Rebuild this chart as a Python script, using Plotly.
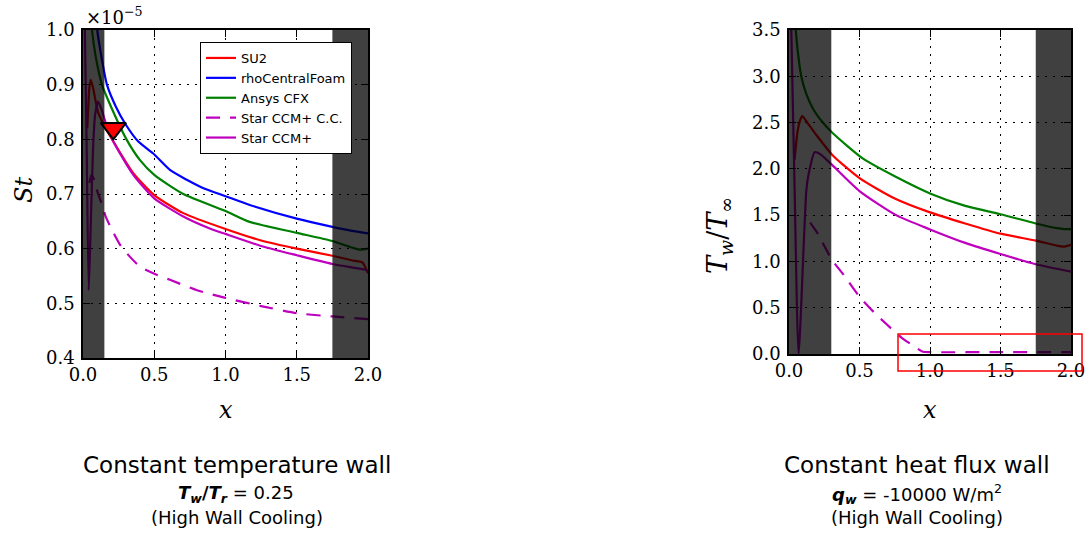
import plotly.graph_objects as go

W, H = 1086, 534

# ---------------- Left panel: Stanton number (x 1e-5) ----------------
su2_x = [0.03, 0.045, 0.054, 0.07, 0.105, 0.15, 0.213, 0.353, 0.5, 0.704, 1.0, 1.25, 1.5, 1.75, 1.9, 1.96, 2.0]
su2_st = [0.82, 0.895, 0.909, 0.895, 0.85, 0.825, 0.796, 0.738, 0.698, 0.665, 0.636, 0.615, 0.60, 0.587, 0.578, 0.575, 0.555]

rcf_x = [0.095, 0.1, 0.13, 0.168, 0.23, 0.295, 0.388, 0.493, 0.61, 0.728, 0.85, 1.0, 1.17, 1.5, 1.75, 1.9, 2.0]
rcf_st = [1.03, 1.0, 0.95, 0.9, 0.86, 0.829, 0.796, 0.774, 0.744, 0.726, 0.71, 0.696, 0.68, 0.655, 0.64, 0.632, 0.628]

cfx_x = [0.055, 0.063, 0.09, 0.133, 0.213, 0.307, 0.4, 0.5, 0.704, 1.0, 1.17, 1.5, 1.75, 1.9, 1.95, 2.0]
cfx_st = [1.03, 1.0, 0.95, 0.9, 0.85, 0.799, 0.762, 0.735, 0.7, 0.669, 0.649, 0.629, 0.614, 0.601, 0.598, 0.6]

ccmcc_x = [0.045, 0.06, 0.08, 0.1, 0.13, 0.16, 0.21, 0.26, 0.33, 0.4, 0.52, 0.61, 0.8, 1.0, 1.25, 1.5, 1.75, 2.0]
ccmcc_st = [0.72, 0.735, 0.725, 0.705, 0.683, 0.658, 0.631, 0.607, 0.585, 0.567, 0.552, 0.543, 0.524, 0.51, 0.495, 0.482, 0.476, 0.471]

ccm_x = [0.01, 0.025, 0.04, 0.055, 0.07, 0.085, 0.105, 0.13, 0.16, 0.213, 0.353, 0.5, 0.704, 0.89, 1.0, 1.25, 1.5, 1.75, 1.95, 2.0]
ccm_st = [1.05, 0.8, 0.524, 0.65, 0.78, 0.845, 0.869, 0.855, 0.83, 0.796, 0.735, 0.692, 0.659, 0.637, 0.627, 0.605, 0.588, 0.572, 0.563, 0.56]

marker_x = [0.213]
marker_st = [0.82]

# ---------------- Right panel: Tw / Tinf ----------------
su2_x2 = [0.04, 0.06, 0.08, 0.094, 0.12, 0.194, 0.307, 0.5, 0.75, 1.0, 1.25, 1.5, 1.75, 1.9, 1.95, 2.0]
su2_tw = [2.1, 2.4, 2.53, 2.57, 2.52, 2.366, 2.15, 1.9, 1.68, 1.53, 1.41, 1.30, 1.225, 1.17, 1.16, 1.18]

cfx_x2 = [0.045, 0.06, 0.087, 0.12, 0.17, 0.24, 0.307, 0.525, 0.75, 1.0, 1.25, 1.5, 1.75, 1.9, 1.95, 2.0]
cfx_tw = [3.55, 3.3, 3.0, 2.82, 2.65, 2.5, 2.39, 2.11, 1.92, 1.735, 1.6, 1.51, 1.41, 1.36, 1.35, 1.35]

ccmcc_x2 = [0.15, 0.2, 0.3, 0.4, 0.5, 0.6, 0.7, 0.8, 0.9, 0.95, 1.0, 1.5, 2.0]
ccmcc_tw = [1.42, 1.31, 1.03, 0.83, 0.62, 0.455, 0.31, 0.175, 0.07, 0.025, 0.02, 0.02, 0.02]

ccm_x2 = [0.015, 0.04, 0.068, 0.123, 0.14, 0.182, 0.22, 0.307, 0.5, 0.76, 1.0, 1.25, 1.5, 1.75, 2.0]
ccm_tw = [3.6, 1.77, 0.0, 1.77, 1.95, 2.18, 2.16, 2.04, 1.76, 1.5, 1.346, 1.2, 1.08, 0.97, 0.89]

shade_left = [(0.0, 0.15), (1.75, 2.0)]
shade_right = [(0.0, 0.3), (1.75, 2.0)]

x_ticks = [0.0, 0.5, 1.0, 1.5, 2.0]

RED, BLUE, GREEN, MAG = "#ff0000", "#0000ff", "#008000", "#bf00bf"
SERIF = "DejaVu Serif"
SANS = "DejaVu Sans"
LW = 2.2
DASH = "14px,10px"

fig = go.Figure()

def add_line(x, y, color, name, xa, ya, dash="solid", show=True):
    fig.add_trace(go.Scatter(x=x, y=y, mode="lines", name=name, showlegend=show,
                             line=dict(color=color, width=LW, dash=dash, shape="spline", smoothing=0.6),
                             xaxis=xa, yaxis=ya))

add_line(su2_x, su2_st, RED, "SU2", "x", "y")
add_line(rcf_x, rcf_st, BLUE, "rhoCentralFoam", "x", "y")
add_line(cfx_x, cfx_st, GREEN, "Ansys CFX", "x", "y")
add_line(ccmcc_x, ccmcc_st, MAG, "Star CCM+ C.C.", "x", "y", dash=DASH)
add_line(ccm_x, ccm_st, MAG, "Star CCM+", "x", "y")

add_line(su2_x2, su2_tw, RED, "SU2", "x2", "y2", show=False)
add_line(cfx_x2, cfx_tw, GREEN, "Ansys CFX", "x2", "y2", show=False)
add_line(ccmcc_x2, ccmcc_tw, MAG, "Star CCM+ C.C.", "x2", "y2", dash=DASH, show=False)
add_line(ccm_x2, ccm_tw, MAG, "Star CCM+", "x2", "y2", show=False)

fig.add_trace(go.Scatter(x=marker_x, y=marker_st, mode="markers", showlegend=False,
                         marker=dict(symbol="triangle-down", size=22, color=RED,
                                     line=dict(color="black", width=2)),
                         xaxis="x", yaxis="y"))

# shaded regions (semi-transparent dark overlay)
for (a, b) in shade_left:
    fig.add_shape(type="rect", xref="x", yref="y domain", x0=a, x1=b, y0=0, y1=1,
                  fillcolor="rgba(0,0,0,0.75)", line_width=0, layer="above")
for (a, b) in shade_right:
    fig.add_shape(type="rect", xref="x2", yref="y2 domain", x0=a, x1=b, y0=0, y1=1,
                  fillcolor="rgba(0,0,0,0.75)", line_width=0, layer="above")

# red highlight box on right panel
fig.add_shape(type="rect", xref="paper", yref="paper",
              x0=898 / W, x1=1082 / W, y0=1 - 371 / H, y1=1 - 334 / H,
              line=dict(color="red", width=1.5), fillcolor="rgba(0,0,0,0)")

axis_common = dict(showline=True, linecolor="black", linewidth=1.5, mirror="ticks",
                   ticks="inside", ticklen=7, tickwidth=1, tickcolor="black",
                   showgrid=True, gridcolor="black", gridwidth=1, griddash="2px,6px",
                   zeroline=False, automargin=False,
                   tickfont=dict(family=SERIF, size=18, color="black"),
                   tickformat=".1f")

fig.update_layout(
    width=W, height=H, autosize=False,
    margin=dict(l=0, r=0, t=0, b=0, pad=0, autoexpand=False),
    paper_bgcolor="white", plot_bgcolor="white",
    xaxis=dict(domain=[83 / W, 368 / W], range=[0, 2], tickvals=x_ticks, anchor="y", **axis_common),
    yaxis=dict(domain=[1 - 358 / H, 1 - 30 / H], range=[0.4, 1.0], dtick=0.1, anchor="x",
               ticklabelstandoff=3, **axis_common),
    xaxis2=dict(domain=[789 / W, 1071 / W], range=[0, 2], tickvals=x_ticks, anchor="y2", **axis_common),
    yaxis2=dict(domain=[1 - 354 / H, 1 - 30 / H], range=[0, 3.5], dtick=0.5, anchor="x2",
                ticklabelstandoff=3, **axis_common),
    legend=dict(x=200 / W, y=1 - 42 / H, xanchor="left", yanchor="top",
                bgcolor="white", bordercolor="black", borderwidth=1,
                font=dict(family=SANS, size=13, color="black"), tracegroupgap=0),
    showlegend=True,
)

def ann(text, px, py, size, family=SERIF, angle=0):
    fig.add_annotation(text=text, x=px / W, y=1 - py / H, xref="paper", yref="paper",
                       showarrow=False, xanchor="center", yanchor="middle", textangle=angle,
                       font=dict(family=family, size=size, color="black"))

ann("×10<sup>−5</sup>", 114, 16, 18)
ann("<i>St</i>", 24, 190, 24, angle=-90)
ann("<i>x</i>", 226, 410, 24)
ann("<i>T</i><sub><i>w</i></sub>/<i>T</i><sub>∞</sub>", 720, 236, 27, angle=-90)
ann("<i>x</i>", 930, 410, 24)

ann("Constant temperature wall", 237, 465, 23, family=SANS)
ann("<b><i>T</i></b><sub><b><i>w</i></b></sub><b>/</b><b><i>T</i></b><sub><b><i>r</i></b></sub> = 0.25", 236, 494, 18, family=SANS)
ann("(High Wall Cooling)", 237, 517, 18, family=SANS)
ann("Constant heat flux wall", 917, 465, 23, family=SANS)
ann("<b><i>q</i></b><sub><b><i>w</i></b></sub> = -10000 W/m<sup>2</sup>", 917, 494, 18, family=SANS)
ann("(High Wall Cooling)", 917, 517, 18, family=SANS)

fig.write_html("out.html", config={"displayModeBar": False},
               post_script="document.body.style.margin='0';document.body.style.padding='0';")
